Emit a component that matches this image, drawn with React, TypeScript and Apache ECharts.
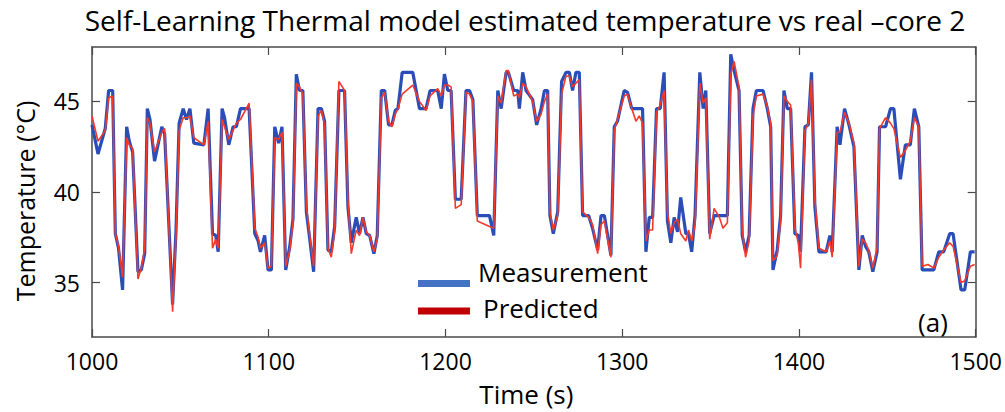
import React, { useEffect, useRef } from "react";
import * as echarts from "echarts";

const times = [
  1000, 1003.4, 1007.5, 1009.4, 1011.7, 1013.2, 1015, 1017.3, 1019.6, 1021.1, 1023, 1026, 1027.9, 1029.8, 1031.3, 1032.8,
  1035.4, 1039.5, 1041.1, 1045.6, 1047.5, 1049.3, 1051.6, 1053.5, 1055.4, 1057.6, 1063.3, 1065.7, 1068.2, 1070, 1071.4,
  1073.6, 1075, 1077.4, 1079.8, 1081.7, 1084, 1088.9, 1092.1, 1094, 1095.3, 1097.7, 1099.6, 1101.5, 1103.4, 1105.6, 1107.5,
  1109.6, 1111.9, 1113.7, 1115.6, 1117.4, 1119.3, 1121.3, 1123.2, 1125.4, 1127.9, 1129.8, 1131.6, 1133.5, 1135.4, 1137.3,
  1139.7, 1142.9, 1144.8, 1146.7, 1149.5, 1151.4, 1153.3, 1155.2, 1157.1, 1159.5, 1161.4, 1163.7, 1165.6, 1167.8, 1169.7,
  1171.6, 1173.1, 1175.5, 1181.5, 1185.3, 1189, 1191.3, 1195.6, 1197.6, 1199.4, 1201.3, 1203.2, 1205.6, 1208.9, 1211.6,
  1213.6, 1215.5, 1218, 1224.9, 1227.3, 1229.6, 1231.5, 1234.3, 1235.6, 1238.6, 1240.9, 1241.8, 1243.7, 1245.6, 1249.3,
  1251.6, 1254.1, 1256, 1257.8, 1259.1, 1261, 1263.5, 1265.7, 1268.2, 1270.1, 1271.9, 1273.8, 1275.7, 1277.6, 1281, 1283.2,
  1286.1, 1288, 1289.9, 1293.6, 1295.5, 1297.3, 1301.1, 1303, 1305.4, 1307.8, 1309.6, 1311.5, 1313.4, 1315.3, 1317.2,
  1319.4, 1321.5, 1323.7, 1325.6, 1327.5, 1329.4, 1331.3, 1333.1, 1336, 1337.5, 1339.3, 1341.2, 1343.9, 1345.8, 1347.3,
  1349.5, 1352, 1355, 1357, 1359.5, 1361.4, 1363.3, 1366.1, 1367.9, 1369.8, 1371.8, 1374, 1375.9, 1379.7, 1382.1, 1384,
  1385.3, 1387.7, 1389.6, 1391.5, 1393.4, 1395.3, 1397.7, 1399.6, 1400.9, 1403.4, 1405.3, 1407.1, 1409, 1411.3, 1415.4,
  1417.5, 1418.8, 1421.6, 1423.2, 1425.8, 1428.3, 1431.1, 1433.9, 1435.8, 1437.7, 1439.5, 1441.8, 1444.2, 1445.6, 1449,
  1451.8, 1453.7, 1457.4, 1460.2, 1463, 1465.3, 1467.8, 1469.7, 1473, 1476.3, 1479.1, 1481.9, 1485.3, 1487.2, 1491.7,
  1493.8, 1497, 1499.4,
];

const measured = [
  43.7, 42.1, 43.5, 45.6, 45.6, 37.7, 36.9, 34.6, 43.6, 42.8, 42.2, 35.6, 35.7, 36.6, 44.6, 44.0,
  41.7, 43.6, 43.2, 33.8, 37.8, 43.8, 44.6, 44.0, 44.6, 42.7, 42.6, 44.6, 37.7, 37.6, 36.7,
  44.6, 44.1, 42.6, 43.6, 43.6, 44.6, 44.6, 37.7, 37.3, 36.7, 37.6, 35.7, 35.7, 43.6, 42.7, 43.6,
  35.7, 37.0, 38.5, 46.5, 45.6, 45.6, 38.9, 37.4, 35.6, 44.6, 44.6, 43.9, 36.8, 36.7, 38.1,
  45.6, 45.6, 39.2, 37.2, 38.6, 37.7, 38.6, 37.7, 37.6, 36.6, 37.6, 45.6, 45.6, 43.7, 43.7,
  44.5, 44.6, 46.6, 46.6, 44.6, 44.6, 45.6, 45.6, 44.6, 46.5, 45.6, 45.6, 39.6, 39.6, 45.6,
  45.6, 45.1, 38.7, 38.7, 37.6, 45.6, 44.6, 46.6, 46.6, 45.6, 45.6, 44.6, 46.6, 45.6, 45.1,
  43.7, 44.6, 45.6, 45.6, 38.7, 37.7, 38.9, 46.1, 46.6, 46.6, 45.6, 46.6, 46.6, 38.7, 38.7, 38.0,
  36.8, 38.7, 38.7, 36.5, 43.6, 43.9, 45.6, 45.5, 44.6, 44.6, 44.6, 44.6, 36.7, 38.6, 38.6,
  44.6, 44.6, 46.6, 38.4, 37.2, 38.6, 37.8, 39.7, 37.7, 37.7, 36.7, 38.7, 46.6, 44.6, 45.6,
  37.7, 38.7, 38.7, 38.7, 38.7, 47.6, 46.7, 45.6, 37.6, 36.7, 37.6, 44.6, 45.6, 45.6, 44.6, 43.6,
  35.7, 36.8, 38.7, 45.6, 44.6, 44.6, 37.7, 37.6, 36.7, 43.6, 43.7, 46.6, 39.2, 36.7, 36.7,
  37.6, 36.7, 43.6, 42.6, 44.6, 43.7, 42.5, 35.7, 37.6, 37.0, 36.7, 35.6, 36.7, 43.6, 43.6,
  44.6, 44.6, 40.7, 42.6, 42.6, 44.6, 43.6, 35.7, 35.7, 35.7, 36.7, 36.7, 37.7, 37.7, 34.6,
  34.6, 36.7, 36.7,
];

const predicted = [
  44.2, 42.8, 43.4, 45.2, 45.3, 37.7, 37.0, 35.3, 43.0, 42.6, 42.4, 35.2, 35.8, 36.9, 44.1, 43.8,
  42.2, 43.3, 43.5, 33.4, 37.5, 43.4, 44.1, 44.1, 44.2, 43.0, 42.6, 43.9, 36.9, 37.4, 36.9,
  44.0, 43.6, 42.9, 43.4, 43.8, 44.0, 44.9, 38.0, 37.5, 36.9, 37.2, 35.8, 35.9, 43.0, 42.9, 43.3,
  35.9, 36.8, 38.3, 46.0, 45.8, 45.4, 39.2, 37.6, 35.9, 44.2, 44.5, 43.7, 36.9, 36.4, 37.9,
  46.1, 45.6, 39.6, 36.6, 37.9, 37.6, 38.6, 37.8, 37.6, 36.7, 37.4, 45.2, 45.5, 43.9, 43.6,
  44.3, 44.6, 45.4, 45.9, 45.0, 44.5, 45.3, 45.7, 45.3, 45.9, 45.9, 45.8, 39.1, 39.3, 45.5,
  45.4, 45.0, 38.4, 38.1, 38.0, 45.3, 44.9, 46.7, 46.7, 45.3, 45.4, 45.2, 46.0, 45.8, 45.0,
  43.9, 44.3, 45.0, 45.4, 38.9, 37.9, 38.7, 45.4, 46.4, 46.4, 45.8, 46.0, 46.2, 38.9, 38.6, 38.2,
  36.6, 38.2, 38.4, 36.4, 43.4, 44.0, 45.3, 45.4, 44.6, 43.9, 44.2, 43.8, 37.3, 37.9, 37.9,
  44.4, 44.8, 45.6, 38.9, 37.7, 38.3, 38.5, 37.7, 37.3, 37.9, 37.3, 38.2, 46.0, 44.9, 45.2,
  37.4, 39.1, 38.6, 38.0, 38.3, 46.5, 47.2, 45.8, 37.9, 36.4, 37.3, 44.2, 45.3, 45.4, 44.7, 43.8,
  36.2, 36.5, 38.4, 45.3, 45.0, 44.8, 38.0, 37.2, 35.8, 43.4, 43.8, 46.2, 39.6, 36.9, 36.7,
  37.3, 36.4, 43.3, 43.3, 44.4, 43.8, 42.7, 35.9, 37.4, 37.2, 36.8, 35.8, 36.9, 43.5, 44.1,
  43.8, 43.5, 41.9, 42.3, 42.8, 44.1, 43.6, 35.9, 36.0, 35.8, 36.4, 36.8, 37.2, 37.0, 35.0,
  35.1, 35.9, 36.0,
];

const yTicks = [35, 40, 45];
const seriesNames = ["Measurement", "Predicted"];

const FONT = "'Open Sans', 'Noto Sans', sans-serif";
const FRAME = "#4a4a4a";

export default function App() {
  const ref = useRef<HTMLDivElement>(null);

  useEffect(() => {
    if (!ref.current) return;
    const chart = echarts.init(ref.current, null, { renderer: "svg" });
    const measData = times.map((t, i) => [t, measured[i]]);
    const predData = times.map((t, i) => [t, predicted[i]]);

    const xBase = {
      type: "value" as const,
      min: 1000,
      max: 1500,
      interval: 100,
      axisLine: { show: true, lineStyle: { color: FRAME, width: 1.5 } },
      axisTick: { show: true, inside: true, length: 8, lineStyle: { color: FRAME, width: 1.2 } },
      splitLine: { show: false },
    };
    const yBase = {
      type: "value" as const,
      min: 32,
      max: 48,
      axisLine: { show: true, lineStyle: { color: FRAME, width: 1.5 } },
      axisTick: { show: true, inside: true, length: 8, customValues: yTicks, lineStyle: { color: FRAME, width: 1.2 } },
      splitLine: { show: false },
    };

    chart.setOption({
      animation: false,
      backgroundColor: "#ffffff",
      title: {
        text: "Self-Learning Thermal model estimated temperature vs real \u2013core 2",
        left: 520,
        top: 1,
        textAlign: "center",
        textStyle: { fontFamily: FONT, fontSize: 28, fontWeight: "normal", color: "#000" },
      },
      grid: { left: 92, right: 28, top: 47, bottom: 74.5, containLabel: false },
      xAxis: [
        {
          ...xBase,
          position: "bottom",
          name: "Time (s)",
          nameLocation: "middle",
          nameGap: 44,
          nameTextStyle: { fontFamily: FONT, fontSize: 26, color: "#000", padding: [0, 15, 0, 0] },
          axisLabel: {
            show: true,
            margin: 12,
            fontFamily: FONT,
            fontSize: 23,
            color: "#000",
            formatter: (v: number) => String(v),
          },
        },
        { ...xBase, position: "top", axisLabel: { show: false } },
      ],
      yAxis: [
        {
          ...yBase,
          position: "left",
          name: "Temperature (\u00b0C)",
          nameLocation: "middle",
          nameGap: 55,
          nameRotate: 90,
          nameTextStyle: { fontFamily: FONT, fontSize: 25, color: "#000", padding: [0, 18, 0, 0] },
          axisLabel: {
            show: true,
            margin: 12,
            customValues: yTicks,
            fontFamily: FONT,
            fontSize: 23,
            color: "#000",
            formatter: (v: number) => String(v),
          },
        },
        { ...yBase, position: "right", axisLabel: { show: false } },
      ],
      series: [
        {
          name: seriesNames[0],
          type: "line",
          data: measData,
          showSymbol: false,
          symbol: "none",
          lineStyle: { color: "#2a4db8", width: 3.2 },
          itemStyle: { color: "#2a4db8" },
          z: 2,
        },
        {
          name: seriesNames[1],
          type: "line",
          data: predData,
          showSymbol: false,
          symbol: "none",
          lineStyle: { color: "#f2392b", width: 1.6 },
          itemStyle: { color: "#f2392b" },
          z: 3,
        },
      ],
      graphic: [
        { type: "rect", shape: { x: 418, y: 280, width: 52, height: 7 }, style: { fill: "#4472C4" }, z: 10 },
        {
          type: "text",
          x: 478,
          y: 272,
          style: { text: seriesNames[0], font: `26px ${FONT}`, fill: "#000", textVerticalAlign: "middle" },
          z: 10,
        },
        { type: "rect", shape: { x: 418, y: 307.5, width: 52, height: 7 }, style: { fill: "#C00000" }, z: 10 },
        {
          type: "text",
          x: 483,
          y: 308,
          style: { text: seriesNames[1], font: `26px ${FONT}`, fill: "#000", textVerticalAlign: "middle" },
          z: 10,
        },
        {
          type: "text",
          x: 933,
          y: 322,
          style: { text: "(a)", font: `26px ${FONT}`, fill: "#000", textAlign: "center", textVerticalAlign: "middle" },
          z: 10,
        },
      ],
    });
    return () => chart.dispose();
  }, []);

  return (
    <div
      ref={ref}
      style={{ position: "fixed", left: 0, top: 0, width: 1005, height: 412, background: "#fff" }}
    />
  );
}
